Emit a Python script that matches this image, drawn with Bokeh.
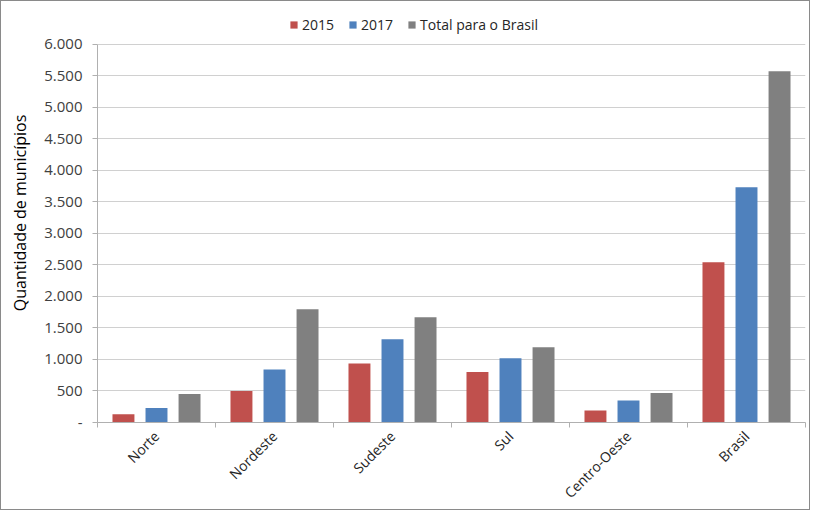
import math
from bokeh.plotting import figure
from bokeh.models import (Range1d, FixedTicker, CustomJSTickFormatter, Legend, LegendItem,
                          ColumnDataSource)
from bokeh.embed import file_html
from bokeh.resources import INLINE

categories = ["Norte", "Nordeste", "Sudeste", "Sul", "Centro-Oeste", "Brasil"]
v2015 = [130, 500, 935, 800, 190, 2540]
v2017 = [230, 840, 1320, 1020, 350, 3730]
total = [450, 1794, 1668, 1191, 467, 5570]
series_names = ["2015", "2017", "Total para o Brasil"]
colors = ["#C0504D", "#4F81BD", "#808080"]
y_ticks = [0, 500, 1000, 1500, 2000, 2500, 3000, 3500, 4000, 4500, 5000, 5500, 6000]
y_max = 6000

FONT = "Open Sans"

W, H = 810, 510
LEFT, RIGHT, TOP, BOTTOM = 96, 6, 2, 84
AXIS_TOP_PX = 43  # pixel row where y_max sits
frame_h = H - TOP - BOTTOM
y_end = y_max * frame_h / (H - BOTTOM - AXIS_TOP_PX)

p = figure(width=W, height=H, output_backend="svg", toolbar_location=None,
           x_range=Range1d(0, len(categories)), y_range=Range1d(0, y_end),
           min_border_left=LEFT, min_border_right=RIGHT, min_border_top=TOP, min_border_bottom=BOTTOM)
p.styles = {"border": "1px solid #8a8a8a", "box-sizing": "border-box"}
p.outline_line_color = None
p.background_fill_color = "white"

centers = [i + 0.5 for i in range(len(categories))]
offsets = [-0.28, 0.0, 0.28]
bw = 0.186
renderers = []
for vals, off, col in zip([v2015, v2017, total], offsets, colors):
    src = ColumnDataSource(dict(x=[c + off for c in centers], top=vals))
    r = p.vbar(x="x", top="top", bottom=0, width=bw, source=src,
               fill_color=col, line_color=None)
    renderers.append(r)

# x axis
p.xaxis.ticker = FixedTicker(ticks=centers, minor_ticks=list(range(len(categories) + 1)))
p.xaxis.major_label_overrides = {c: name for c, name in zip(centers, categories)}
p.xaxis.major_tick_out = 0
p.xaxis.major_tick_in = 0
p.xaxis.minor_tick_out = 5
p.xaxis.minor_tick_in = 0
p.xaxis.minor_tick_line_color = "#b0b0b0"
p.xaxis.axis_line_color = "#b0b0b0"
p.xaxis.major_label_orientation = math.pi / 4
p.xaxis.major_label_text_font = FONT
p.xaxis.major_label_text_font_size = "14px"
p.xaxis.major_label_text_color = "#262626"
p.xaxis.major_label_standoff = 6
p.xgrid.grid_line_color = None

# y axis
p.yaxis.ticker = FixedTicker(ticks=y_ticks)
p.yaxis.bounds = (0, y_max)
p.yaxis.formatter = CustomJSTickFormatter(code="""
if (tick == 0) { return "-"; }
return Math.round(tick).toString().replace(/\\B(?=(\\d{3})+(?!\\d))/g, ".");
""")
p.yaxis.axis_line_color = "#b0b0b0"
p.yaxis.major_tick_line_color = "#b0b0b0"
p.yaxis.major_tick_out = 5
p.yaxis.major_tick_in = 0
p.yaxis.minor_tick_line_color = None
p.yaxis.major_label_text_font = FONT
p.yaxis.major_label_text_font_size = "15px"
p.yaxis.major_label_text_color = "#404040"
p.yaxis.major_label_standoff = 10
p.yaxis.axis_label = "Quantidade de municípios"
p.yaxis.axis_label_text_font = FONT
p.yaxis.axis_label_text_font_size = "16px"
p.yaxis.axis_label_text_font_style = "normal"
p.yaxis.axis_label_text_color = "#000000"
p.yaxis.axis_label_standoff = 10
p.ygrid.grid_line_color = "#d0d0d0"
p.ygrid.grid_line_width = 1

legend = Legend(items=[LegendItem(label=n, renderers=[r]) for n, r in zip(series_names, renderers)],
                orientation="horizontal", location=(192, frame_h - 36))
legend.label_text_font = FONT
legend.label_text_font_size = "14px"
legend.label_text_color = "#262626"
legend.glyph_width = 9
legend.glyph_height = 9
legend.spacing = 14
legend.label_standoff = 4
legend.padding = 2
legend.margin = 0
legend.border_line_color = None
legend.background_fill_alpha = 0
p.add_layout(legend, "center")

open("out.html", "w").write(file_html(p, INLINE))
